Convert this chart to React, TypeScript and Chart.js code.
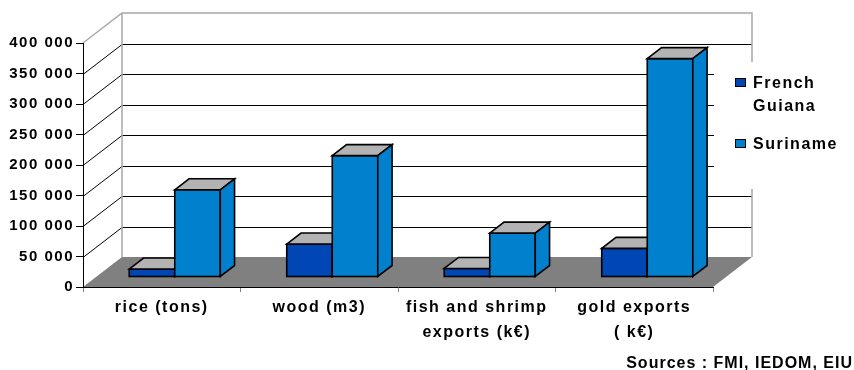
import React, { useEffect, useRef } from 'react';
import { Chart, registerables } from 'chart.js';

Chart.register(...registerables);

// ---- data ----
const categories: (string | string[])[] = [
  'rice (tons)',
  'wood (m3)',
  ['fish and shrimp', 'exports (k€)'],
  ['gold exports', '( k€)'],
];
const frenchGuiana = [13000, 54000, 14000, 47000];
const suriname = [143000, 199000, 72000, 358000];
const seriesNames = ['French Guiana', 'Suriname'];
const legendLines = [['French', 'Guiana'], ['Suriname']];
const yMin = 0;
const yMax = 400000;
const yStep = 50000;
const sourceNote = 'Sources : FMI, IEDOM, EIU';

// ---- style ----
const FONT = '"Liberation Sans", Arial, Helvetica, sans-serif';
const COLORS = ['#0047B5', '#0181CD'];
const TOP_FACE = '#B3B3B3';
const FLOOR = '#808080';
const WALL_EDGE = '#A8A8A8';
const DX = 39;
const DY = -30;
const BAR_FRONT = 10 / 30;
const BAR_DEPTH = 11 / 30;

const fmt = (v: number) => String(v).replace(/\B(?=(\d{3})+(?!\d))/g, ' ');

const threeD = {
  id: 'threeD',
  beforeLayout(chart: any) {
    chart.ctx.letterSpacing = '1.5px';
  },
  beforeDraw(chart: any) {
    const { ctx, chartArea: a } = chart;
    const y = chart.scales.y;
    ctx.letterSpacing = '1.5px';
    ctx.save();
    // floor
    ctx.fillStyle = FLOOR;
    ctx.beginPath();
    ctx.moveTo(a.left, a.bottom);
    ctx.lineTo(a.right, a.bottom);
    ctx.lineTo(a.right + DX, a.bottom + DY);
    ctx.lineTo(a.left + DX, a.bottom + DY);
    ctx.closePath();
    ctx.fill();
    // grid on back wall and side wall
    ctx.lineWidth = 1;
    ctx.strokeStyle = '#000';
    y.ticks.forEach((t: any) => {
      if (t.value <= yMin || t.value >= yMax) return;
      const py = Math.round(y.getPixelForValue(t.value)) + 0.5;
      ctx.beginPath();
      ctx.moveTo(a.left + DX, py + DY);
      ctx.lineTo(a.right + DX, py + DY);
      ctx.stroke();
      ctx.beginPath();
      ctx.moveTo(a.left, py);
      ctx.lineTo(a.left + DX, py + DY);
      ctx.stroke();
    });
    // wall edges
    const top = y.getPixelForValue(yMax);
    ctx.strokeStyle = WALL_EDGE;
    ctx.lineWidth = 1.5;
    ctx.beginPath();
    ctx.moveTo(a.left, top);
    ctx.lineTo(a.left + DX, top + DY);
    ctx.lineTo(a.right + DX, top + DY);
    ctx.lineTo(a.right + DX, a.bottom + DY);
    ctx.moveTo(a.left + DX, top + DY);
    ctx.lineTo(a.left + DX, a.bottom + DY);
    ctx.stroke();
    ctx.restore();
  },
  afterDatasetsDraw(chart: any) {
    const ctx = chart.ctx;
    const bx = DX * BAR_DEPTH;
    const by = DY * BAR_DEPTH;
    ctx.save();
    ctx.translate(DX * BAR_FRONT, DY * BAR_FRONT);
    ctx.lineWidth = 1.6;
    ctx.strokeStyle = '#000';
    ctx.lineJoin = 'miter';
    chart.data.datasets.forEach((_ds: any, di: number) => {
      const color = COLORS[di];
      chart.getDatasetMeta(di).data.forEach((el: any) => {
        const { x, y, base, width } = el.getProps(['x', 'y', 'base', 'width'], true);
        const l = x - width / 2;
        const r = x + width / 2;
        // front
        ctx.fillStyle = color;
        ctx.fillRect(l, y, width, base - y);
        ctx.strokeRect(l, y, width, base - y);
        // top
        ctx.fillStyle = TOP_FACE;
        ctx.beginPath();
        ctx.moveTo(l, y);
        ctx.lineTo(l + bx, y + by);
        ctx.lineTo(r + bx, y + by);
        ctx.lineTo(r, y);
        ctx.closePath();
        ctx.fill();
        ctx.stroke();
        // side
        ctx.fillStyle = color;
        ctx.beginPath();
        ctx.moveTo(r, y);
        ctx.lineTo(r + bx, y + by);
        ctx.lineTo(r + bx, base + by);
        ctx.lineTo(r, base);
        ctx.closePath();
        ctx.fill();
        ctx.stroke();
      });
    });
    ctx.restore();
  },
  afterDraw(chart: any) {
    const { ctx, chartArea: a, width, height } = chart;
    ctx.save();
    // legend
    ctx.fillStyle = '#fff';
    ctx.fillRect(a.right + 1, 62, width - a.right - 1, 127);
    ctx.font = `bold 16px ${FONT}`;
    ctx.letterSpacing = '1.5px';
    ctx.textBaseline = 'alphabetic';
    ctx.textAlign = 'left';
    const boxX = a.right + 22;
    const itemTops = [78, 139];
    legendLines.forEach((lines, i) => {
      const ty = itemTops[i];
      ctx.fillStyle = COLORS[i];
      ctx.fillRect(boxX, ty, 11, 9);
      ctx.strokeStyle = '#000';
      ctx.lineWidth = 1;
      ctx.strokeRect(boxX + 0.5, ty + 0.5, 10, 8);
      ctx.fillStyle = '#000';
      lines.forEach((ln, j) => {
        ctx.fillText(ln, boxX + 18, ty + 10 + j * 22.5);
      });
    });
    // source note
    ctx.font = `bold 16px ${FONT}`;
    ctx.letterSpacing = '1px';
    ctx.textAlign = 'right';
    ctx.fillText(sourceNote, width - 1, height - 2);
    ctx.restore();
  },
};

export default function App() {
  const ref = useRef<HTMLCanvasElement>(null);
  useEffect(() => {
    const chart = new Chart(ref.current as HTMLCanvasElement, {
      type: 'bar',
      data: {
        labels: categories,
        datasets: [
          {
            label: seriesNames[0],
            data: frenchGuiana,
            backgroundColor: 'rgba(0,0,0,0)',
            borderWidth: 0,
          },
          {
            label: seriesNames[1],
            data: suriname,
            backgroundColor: 'rgba(0,0,0,0)',
            borderWidth: 0,
          },
        ],
      },
      options: {
        responsive: false,
        animation: false,
        events: [],
        layout: { padding: { top: 43, right: 141, left: 0, bottom: 0 } },
        datasets: { bar: { barPercentage: 1, categoryPercentage: 0.578 } },
        plugins: { legend: { display: false }, tooltip: { enabled: false } },
        scales: {
          x: {
            grid: { drawOnChartArea: false, color: '#808080', tickLength: 5, offset: true },
            border: { color: '#000', width: 1 },
            ticks: {
              color: '#000',
              autoSkip: false,
              maxRotation: 0,
              padding: 3.5,
              font: { family: FONT, size: 16, weight: 'bold', lineHeight: 25 / 16 },
            },
            afterFit: (s: any) => {
              s.height = 83;
            },
          },
          y: {
            min: yMin,
            max: yMax,
            grid: { drawOnChartArea: false, color: '#000', tickLength: 7 },
            border: { color: '#000', width: 1 },
            ticks: {
              stepSize: yStep,
              color: '#000',
              padding: 2,
              font: { family: FONT, size: 15, weight: 'bold' },
              callback: (v: any) => fmt(Number(v)),
            },
            afterFit: (s: any) => {
              s.width = 83;
            },
          },
        },
      },
      plugins: [threeD],
    });
    return () => chart.destroy();
  }, []);
  return (
    <div style={{ position: 'absolute', left: 0, top: 0, width: 854, height: 370, background: '#fff' }}>
      <canvas ref={ref} width={854} height={370} style={{ display: 'block' }} />
    </div>
  );
}
